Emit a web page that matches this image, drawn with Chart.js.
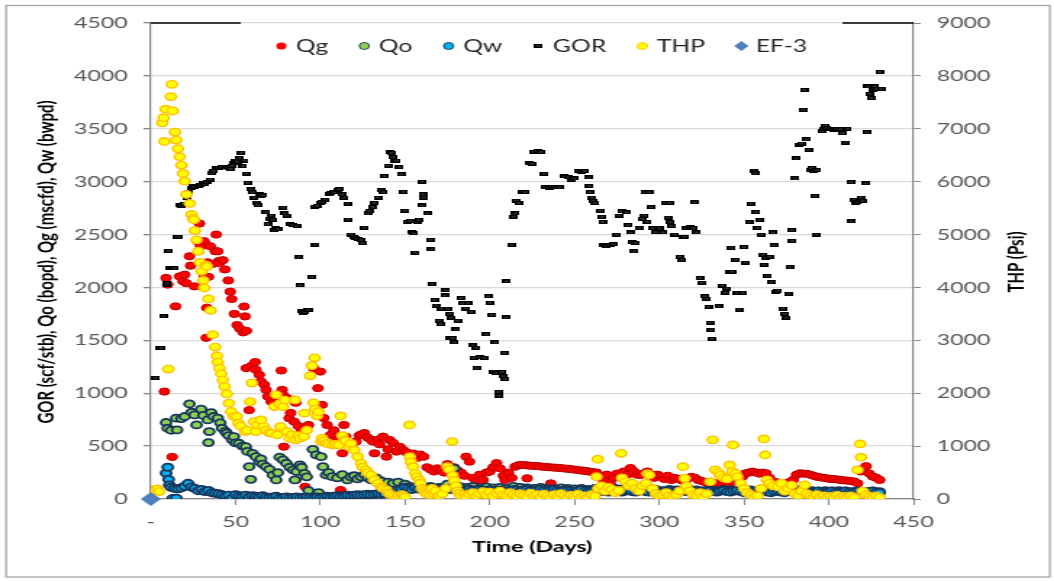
<!DOCTYPE html>
<html>
<head>
<meta charset="utf-8">
<title>EF-3 production history</title>
<script src="https://cdn.jsdelivr.net/npm/chart.js@4.4.1/dist/chart.umd.min.js"></script>
<style>
  html, body { margin: 0; padding: 0; background: #fff; overflow: hidden; }
  /* the chart is drawn narrow and widened here, like the exported sheet chart */
  #wrap { width: 727px; height: 581px; transform: scaleX(1.45); transform-origin: 0 0; }
</style>
</head>
<body>
<div id="wrap"><canvas id="prodChart" width="727" height="581"></canvas></div>
<script>
// axis ranges
const dayRange = [0, 450, 50];
const rateRange = [0, 4500, 500];
const thpRange = [0, 9000, 1000];

// [day, value] readings per series
const qgPoints = [
  [8,1016],[9,2090],[10,2027],[12.6,398],[14.6,1821],[17,2105],[19,2058],[20,2121],[21,2040],[22.8,2295],
  [23.5,2206],[25.8,2010],[27.5,2437],[28.7,2604],[29.4,2390],[31.4,2437],[31.5,2105],[32.7,1524],[33,1808],[33.5,2238],
  [34,2100],[35,2390],[36,2220],[38,2342],[38.6,2500],[39.5,2342],[40,2250],[40.5,2231],[42.5,2258],[43.7,2170],
  [45.7,2066],[46.9,1960],[47.7,1890],[49.3,1750],[50.9,1645],[52.5,1610],[54.5,1575],[55,1820],[55.6,1726],[56.4,1590],
  [56.3,1237],[58,840],[59.6,1260],[61.6,1295],[62,1222],[64,1174],[65,1111],[67,1080],[68,1032],[69,969],
  [71,921],[73,874],[75,950],[77,1215],[77.5,1032],[78,985],[78.5,495],[80.6,953],[81.6,764],[82.5,814],
  [84.5,732],[85.5,909],[85.5,180],[87,690],[89,650],[91,116],[93,700],[96,1237],[98.6,1048],[100,1205],
  [101,890],[102,766],[104,700],[106,606],[108,650],[110,560],[112,85],[113,432],[114,700],[115,590],
  [117,520],[119,480],[121,543],[123,600],[124,610],[126,624],[128,580],[130,560],[131,543],[132,432],
  [134,560],[135,517],[137,590],[139,400],[140,470],[141,558],[143,530],[145,448],[147,492],[149,463],
  [151,440],[153,410],[155,430],[157,388],[159,420],[161,400],[163,300],[165,280],[167,260],[169,290],
  [171,270],[173,250],[175,330],[177,280],[179,300],[181,270],[183,250],[185,220],[186,400],[188,353],
  [190,200],[192,170],[194,230],[196,180],[198,250],[200,259],[202,300],[204,340],[206,290],[208,220],
  [209,180],[211,250],[213,200],[215,306],[217,320],[219,322],[221,320],[222,196],[223,316],[225,314],
  [227,312],[229,310],[231,306],[233,303],[235,300],[236,148],[237,298],[239,296],[241,293],[243,290],
  [245,287],[247,284],[249,280],[251,276],[253,272],[255,268],[257,264],[259,259],[261,254],[263,250],
  [265,220],[267,180],[269,230],[271,150],[273,200],[275,240],[277,210],[279,260],[281,230],[283,293],
  [285,260],[287,230],[289,227],[291,243],[293,260],[295,230],[297,200],[299,230],[301,211],[303,190],
  [305,220],[307,180],[309,200],[311,190],[313,180],[315,160],[317,196],[319,210],[321,200],[323,180],
  [325,170],[327,160],[329,150],[331,148],[333,150],[335,140],[337,133],[339,140],[341,150],[343,160],
  [345,170],[347,180],[349,210],[351,243],[353,250],[355,259],[357,250],[359,240],[361,250],[363,243],
  [365,200],[367,148],[369,160],[371,150],[373,148],[375,148],[377,160],[379,180],[381,230],[383,243],
  [385,240],[387,238],[389,230],[391,220],[393,210],[395,205],[397,200],[399,195],[401,190],[403,188],
  [405,185],[407,180],[409,176],[411,174],[413,170],[415,165],[417,148],[419,260],[421,290],[422,310],
  [424,240],[426,211],[428,200],[430,180]
];

const qoPoints = [
  [9,723],[10,669],[12,650],[15,764],[15.5,653],[18,760],[20,780],[22.8,899],[24,820],[25.8,795],
  [27,700],[29.7,849],[31,790],[33.6,748],[34,533],[34.5,637],[35.6,817],[37,780],[39.5,764],[41,720],
  [42,669],[44,640],[44.8,622],[46,600],[48,560],[49,590],[50,530],[52,527],[54,500],[56,495],
  [57,450],[58,306],[59,186],[60,432],[62,400],[64,353],[65,380],[66,330],[68,306],[70,280],
  [72,227],[74,180],[75,250],[76,395],[78,370],[80,338],[82,300],[84,275],[85,180],[86,260],
  [88,322],[89,300],[90.7,243],[92,210],[93,80],[95.6,470],[97.6,417],[99,60],[100.5,400],[101.5,306],
  [103.4,227],[105,250],[107,211],[110,200],[113,230],[116,180],[118,210],[120,220],[122,190],[124,210],
  [126,230],[128,200],[130,180],[133,200],[136,170],[140,160],[143,150],[146,160],[150,140],[153,120],
  [156,110],[160,130],[165,120],[170,110],[175,140],[179,290],[182,120],[186,110],[190,120],[194,100],
  [198,115],[202,105],[206,110],[210,100],[214,120],[218,110],[222,105],[226,100],[230,110],[234,100],
  [238,95],[242,105],[246,100],[250,95],[254,100],[258,90],[262,100],[266,95],[270,90],[274,100],
  [278,95],[282,85],[286,90],[290,95],[294,85],[298,90],[302,80],[306,90],[310,85],[314,80],
  [318,90],[322,85],[326,80],[330,85],[334,80],[338,90],[342,85],[346,80],[350,75],[354,85],
  [358,80],[362,75],[366,80],[370,85],[374,75],[378,80],[382,85],[386,75],[390,80],[394,75],
  [398,80],[402,75],[406,80],[410,75],[414,70],[418,75],[422,70],[426,75],[430,70]
];

const qwPoints = [
  [9,245],[10,300],[10.5,186],[11,133],[12,110],[13,5],[14,100],[15,8],[16,97],[18,105],
  [20,120],[22,148],[24,113],[26,100],[28,79],[30,90],[32,70],[34,80],[36,60],[38,54],
  [40,50],[42,40],[44,30],[46,35],[48,10],[50,40],[52,30],[54,25],[56,35],[58,20],
  [60,30],[62,25],[64,20],[66,30],[68,20],[70,15],[72,20],[74,25],[76,10],[78,15],
  [80,20],[82,10],[84,15],[86,20],[88,10],[90,15],[92,20],[94,15],[96,10],[98,20],
  [100,15],[102,20],[104,25],[106,20],[108,25],[110,30],[112,25],[114,30],[116,35],[118,30],
  [120,35],[122,40],[124,35],[126,40],[128,45],[130,40],[132,45],[134,50],[136,45],[138,50],
  [140,55],[142,60],[144,70],[146,85],[148,95],[150,110],[152,100],[154,90],[156,105],[158,95],
  [160,100],[162,90],[164,95],[166,105],[168,90],[170,100],[172,95],[174,85],[176,100],[178,90],
  [180,95],[182,85],[184,90],[186,80],[188,95],[190,85],[192,80],[194,90],[196,85],[198,75],
  [200,85],[202,80],[204,70],[206,85],[208,80],[210,70],[212,80],[214,90],[216,85],[218,75],
  [220,85],[222,90],[224,80],[226,75],[228,85],[230,90],[232,80],[234,75],[236,85],[238,90],
  [240,80],[242,75],[244,85],[246,80],[248,75],[250,70],[252,80],[254,85],[256,75],[258,70],
  [260,80],[262,85],[264,75],[266,70],[268,80],[270,65],[272,75],[274,80],[276,70],[278,65],
  [280,75],[282,80],[284,70],[286,65],[288,75],[290,80],[292,70],[294,65],[296,75],[298,80],
  [300,70],[302,65],[304,75],[306,80],[308,70],[310,65],[312,75],[314,80],[316,70],[318,65],
  [320,75],[322,80],[324,70],[326,65],[328,75],[330,80],[332,70],[334,65],[336,75],[338,80],
  [340,70],[342,65],[344,75],[346,80],[348,70],[350,60],[352,70],[354,75],[356,65],[358,60],
  [360,70],[362,75],[364,65],[366,60],[368,70],[370,75],[372,65],[374,60],[376,70],[378,75],
  [380,65],[382,60],[384,70],[386,75],[388,65],[390,60],[392,70],[394,75],[396,65],[398,60],
  [400,70],[402,75],[404,65],[406,60],[408,70],[410,75],[412,65],[414,60],[416,70],[418,75],
  [420,65],[422,60],[424,70],[426,75],[428,65],[430,60]
];

const gorPoints = [
  [2.8,1146],[5,1428],[6,1428],[7.5,1727],[9,2027],[9.5,2040],[10.6,2342],[11,2187],[12.5,2180],[14,2180],
  [15,2475],[16,2480],[17,2784],[18,2768],[19.5,2790],[21,2850],[22,2900],[24,2940],[25,2958],[26,2950],
  [28,2960],[29,2970],[30.7,2989],[32,2980],[33,3000],[35,3020],[36,3080],[37,3100],[38.6,3125],[40,3130],
  [42,3134],[44.5,3134],[46,3130],[47,3120],[48,3150],[49,3180],[50,3200],[51,3190],[52,3220],[53.3,3273],
  [54.3,3147],[55,3200],[56.3,3077],[57,2990],[59,2930],[60,2900],[61,2850],[62.3,2800],[63,2780],[64,2880],
  [65,2860],[66,2870],[68,2711],[69,2600],[70,2650],[71,2680],[72,2640],[72.6,2545],[74,2560],[75,2550],
  [78,2755],[79,2700],[80,2680],[82,2600],[84,2590],[86,2585],[87.3,2285],[88,2020],[89,1780],[90,1760],
  [91,1770],[92,1790],[93,1790],[95,2100],[97,2405],[96.6,2765],[98,2770],[100,2800],[101,2810],[103,2830],
  [105,2880],[106,2890],[108,2900],[110,2920],[111,2930],[113,2880],[114,2850],[116,2793],[116.5,2642],[118,2500],
  [120,2480],[121,2470],[122,2460],[124,2450],[124.5,2420],[126,2566],[128,2700],[129,2720],[131,2760],[132,2800],
  [134,2850],[136,2920],[137,2900],[138,3052],[140,3150],[141,3280],[142,3270],[143,3230],[144,3200],[145,3200],
  [146.7,3137],[147.7,3068],[149,2904],[150,2727],[151,2620],[153,2630],[154,2520],[155,2510],[156,2330],[157,2620],
  [158,2640],[160,3000],[160.5,2880],[161,2850],[160.2,2775],[163,2700],[165,2450],[165.5,2360],[166,2030],[167.4,1884],
  [168.4,1828],[170,1685],[171,1655],[171.5,1800],[173.5,1925],[174,1973],[175,1800],[176,1750],[177,1715],[176.5,1525],
  [178,1520],[179,1480],[180,1603],[181,1685],[183,1900],[184,1850],[186,1800],[187,1850],[189,1770],[190,1452],
  [192,1430],[190.5,1335],[192.5,1237],[194,1340],[197,1335],[198,1556],[199,1915],[200,1855],[201,1740],[203,1480],
  [202,1205],[204,1190],[205,1013],[205.5,975],[207,1200],[208,1160],[209,1136],[208.5,1380],[209.5,1717],[210,2058],
  [212.6,2405],[214,2670],[215,2700],[215.5,2820],[217,2800],[219,2900],[221,2900],[223,3172],[225,3170],[226,3285],
  [228,3290],[230,3280],[232,3077],[233,2945],[235,2940],[237,2950],[239,2945],[241,2945],[244,3050],[246,3040],
  [248,3020],[250,3030],[252,3100],[254,3090],[256,3100],[258,3040],[258.5,2958],[259,2900],[260,2850],[261,2820],
  [262,2800],[265,2727],[266,2670],[266.5,2620],[267,2400],[269,2390],[271,2400],[273,2410],[275,2500],[276,2680],
  [278,2720],[281,2710],[281.5,2590],[283,2520],[284,2430],[285,2340],[286,2420],[288,2560],[290,2650],[291,2680],
  [292,2900],[293,2620],[294,2900],[295,2760],[296,2560],[298,2520],[300,2560],[302,2520],[304,2800],[306,2800],
  [305,2660],[306.5,2620],[307,2580],[309,2500],[312,2290],[313,2260],[314,2480],[315,2480],[316,2560],[318,2570],
  [320,2560],[321,2805],[322,2520],[324,2090],[325,2045],[327,1915],[328,1893],[329,1818],[330,1667],[330.5,1600],
  [331,1515],[335,1821],[337,2017],[339,1950],[340,1990],[341.6,2150],[343,2150],[342,2375],[345,2260],[346,1950],
  [347,1790],[349,1950],[350,2380],[351,2235],[353,2620],[354,2793],[356,3100],[356.5,3080],[357,2711],[358,2560],
  [359,2640],[360,2500],[361,2310],[362,2215],[363,2280],[364,2110],[365,2290],[366,2050],[367,2520],[367.5,2400],
  [369,1960],[370,1970],[373,1800],[374,1750],[375,1715],[376,1940],[377,2190],[378,2540],[378.5,2440],[380,3030],
  [381,3220],[382,3350],[384,3360],[385,3680],[385.5,3866],[387,3400],[388,3300],[389,3110],[390,3130],[391,3100],
  [392,2863],[392.5,2500],[393,3110],[396,3480],[397,3500],[398,3530],[399,3510],[401,3500],[403,3490],[405,3500],
  [407,3500],[408,3460],[410,3370],[411,3500],[413,2995],[413.5,2626],[415,2830],[416,2800],[417,2810],[418,2830],
  [419,2850],[420,2820],[422,2985],[422.5,3466],[423,3900],[424,3830],[425,3790],[426,3870],[427,3900],[428,3880],
  [430,4037],[431,3880]
];

const thpPoints = [
  [0,176],[2,160],[4,190],[5,140],[6.8,7110],[7.6,7210],[8,6760],[8.7,7370],[10.4,2456],[11.8,7608],
  [12.4,7840],[13,7336],[14.3,6938],[15,6786],[16,6622],[17,6472],[18,6314],[19,6156],[20,6010],[21,5758],
  [23,5588],[24,5380],[25,5300],[25.5,5280],[26,5076],[27,4900],[28,4684],[29,4474],[30,4304],[31,4134],
  [31.5,3990],[32.5,4420],[33,4394],[34,3782],[35.3,3566],[36.5,3106],[38,2872],[39,2708],[39.5,2588],[40.5,2474],
  [41.5,2368],[42.5,2254],[43.5,2126],[44.9,1988],[46,1812],[47.4,1654],[49,1560],[50.7,1560],[51.7,1434],[53,1380],
  [55.6,1274],[57,1300],[58.6,1842],[59.6,2192],[61,1464],[62,1274],[63,1400],[65,1496],[66.6,1370],[68,1300],
  [70,1250],[71.5,1244],[73,1748],[74,1970],[74.5,1212],[76,1800],[76.5,1370],[78,1748],[79,1870],[80.4,1274],
  [82,1150],[83.4,1212],[85,1874],[85.4,1118],[87,1200],[88,1150],[90.3,1180],[90.6,1622],[92,1300],[94,2330],
  [95,2520],[96.7,2670],[96,1818],[97,1700],[98,1572],[99,1650],[100.5,1086],[101,1150],[102,1100],[103.4,1054],
  [105,1040],[107.4,1022],[109,1030],[111,1022],[112,1570],[113,1200],[114,1118],[115,1100],[117,990],[118,1050],
  [120,928],[122,800],[124,676],[125,600],[127,550],[128,500],[130,454],[132,360],[134,296],[136,232],
  [137,200],[139,170],[140,120],[141,90],[143,56],[145,32],[146,60],[148,80],[149,70],[150,40],
  [152.6,1400],[152.8,800],[153.5,700],[154.6,612],[156,486],[157,420],[158.4,360],[159,300],[160,200],[161,160],
  [162,120],[163,90],[165,80],[166,200],[167,100],[168,150],[170,60],[172,100],[174,200],[175,612],
  [176,560],[177.8,1086],[178,450],[179,350],[180,250],[181,150],[182,100],[183,60],[185,80],[186,40],
  [188,90],[190,120],[192,60],[194,100],[196,140],[198,80],[200,130],[202,60],[204,110],[206,150],
  [208,80],[210,60],[212,120],[214,90],[216,50],[218,100],[220,70],[222,40],[224,110],[226,60],
  [228,80],[230,40],[232,90],[234,60],[236,30],[238,80],[240,50],[242,100],[244,60],[246,30],
  [248,70],[250,50],[252,90],[254,40],[256,60],[258,30],[260,80],[262,50],[263.7,752],[263,422],
  [264,200],[266,250],[268,150],[270,220],[272,180],[274,120],[276,160],[277.5,864],[278,400],[280,330],
  [282,250],[284,300],[286,200],[288,150],[290,250],[292,300],[293,480],[294,454],[296,200],[298,100],
  [300,60],[302,80],[304,120],[306,60],[308,50],[310,80],[312,150],[314,612],[315,392],[316,250],
  [318,150],[320,80],[322,60],[324,120],[326,40],[328,100],[330,328],[331.5,1118],[333,550],[335,500],
  [336,450],[338,400],[340,380],[341.5,644],[343,520],[343.5,1022],[345,480],[346,420],[348,300],[350,200],
  [352,120],[354,80],[356,40],[358,60],[360,200],[361.7,1136],[362.5,834],[363.5,360],[365,300],[367,250],
  [370,232],[372,300],[374,150],[376,200],[378,260],[380,100],[382,60],[384,150],[385.8,266],[387,100],
  [389,60],[391,40],[393,80],[395,40],[397,60],[399,30],[401,50],[403,40],[405,70],[407,30],
  [409,50],[411,40],[413,60],[415,30],[417,550],[418.5,1042],[419,790],[420,150],[422,80],[424,50],
  [426,40],[428,60],[430,30]
];

const ef3Points = [[0, 0]];

const toXY = pts => pts.map(p => ({ x: p[0], y: p[1] }));

// small black dash used for GOR
const gorDash = document.createElement('canvas');
gorDash.width = 6;
gorDash.height = 4;
(function () {
  const g = gorDash.getContext('2d');
  g.fillStyle = '#000';
  g.fillRect(0, 0, 6, 4);
  g.fillStyle = '#5a5a5a';
  g.fillRect(1.5, 1.5, 3, 1);
})();

const TICK_FONT = { family: 'Lato', size: 16 };
const TICK_COLOR = '#595959';
const AXIS_COLOR = '#868686';
const plainNumber = v => (v === 0 ? '0' : String(v));

const chartFrame = {
  id: 'chartFrame',
  beforeDraw(chart) {
    const ctx = chart.ctx;
    ctx.save();
    ctx.fillStyle = '#fff';
    ctx.fillRect(0, 0, chart.width, chart.height);
    ctx.strokeStyle = '#a6a6a6';
    ctx.lineWidth = 1.3;
    ctx.strokeRect(4.2, 5.5, 719.8, 571.5);
    ctx.restore();
  },
  afterDraw(chart) {
    const ctx = chart.ctx;
    const a = chart.chartArea;
    ctx.save();

    // top edge of the plot, left open behind the legend
    ctx.strokeStyle = '#000';
    ctx.lineWidth = 1.3;
    ctx.beginPath();
    ctx.moveTo(a.left, a.top); ctx.lineTo(166, a.top);
    ctx.moveTo(581, a.top); ctx.lineTo(a.right, a.top);
    ctx.stroke();

    // axis titles
    ctx.fillStyle = '#000';
    ctx.textAlign = 'center';
    ctx.textBaseline = 'middle';
    ctx.font = 'bold 15px Lato';
    const midY = (a.top + a.bottom) / 2 + 1;
    ctx.save();
    ctx.translate(32, midY);
    ctx.rotate(-Math.PI / 2);
    ctx.fillText('GOR (scf/stb), Qo (bopd), Qg (mscfd), Qw (bwpd)', 0, 0);
    ctx.restore();
    ctx.save();
    ctx.translate(701, midY);
    ctx.rotate(-Math.PI / 2);
    ctx.fillText('THP (Psi)', 0, 0);
    ctx.restore();
    ctx.font = 'bold 16px Lato';
    ctx.fillText('Time (Days)', (a.left + a.right) / 2, 547);

    // legend inside the plot
    ctx.font = '17px Lato';
    ctx.textAlign = 'left';
    let x = 194;
    const y = 46;
    chart.data.datasets.slice().sort((p, q) => p.legendIndex - q.legendIndex).forEach(ds => {
      ctx.fillStyle = ds.backgroundColor;
      ctx.strokeStyle = ds.borderColor;
      ctx.lineWidth = ds.legendBorder;
      Chart.helpers.drawPoint(ctx, {
        pointStyle: ds.pointStyle,
        radius: ds.legendRadius,
        borderWidth: ds.legendBorder,
        rotation: 0
      }, x, y);
      ctx.fillStyle = '#262626';
      ctx.fillText(ds.label, x + 10, y + 1);
      x += 10 + ctx.measureText(ds.label).width + 25;
    });
    ctx.restore();
  }
};

const ctx = document.getElementById('prodChart').getContext('2d');
const prodChart = new Chart(ctx, {
  type: 'scatter',
  data: {
    datasets: [
      {
        label: 'EF-3', legendIndex: 5, order: 0, yAxisID: 'y', clip: false,
        data: toXY(ef3Points),
        pointStyle: 'rectRot', pointRadius: 7, borderWidth: 0,
        backgroundColor: '#4F81BD', borderColor: '#4F81BD',
        legendRadius: 5, legendBorder: 0
      },
      {
        label: 'THP', legendIndex: 4, order: 1, yAxisID: 'y1',
        data: toXY(thpPoints),
        pointStyle: 'circle', pointRadius: 3.7, borderWidth: 1.4,
        backgroundColor: '#FFFF00', borderColor: '#FFC000',
        legendRadius: 3.5, legendBorder: 0.8
      },
      {
        label: 'GOR', legendIndex: 3, order: 2, yAxisID: 'y',
        data: toXY(gorPoints),
        pointStyle: gorDash, pointRadius: 3,
        backgroundColor: '#000', borderColor: '#000',
        legendRadius: 3, legendBorder: 0
      },
      {
        label: 'Qw', legendIndex: 2, order: 3, yAxisID: 'y',
        data: toXY(qwPoints),
        pointStyle: 'circle', pointRadius: 3.6, borderWidth: 1.8,
        backgroundColor: '#00B0F0', borderColor: '#17375E',
        legendRadius: 3.5, legendBorder: 0.9
      },
      {
        label: 'Qo', legendIndex: 1, order: 4, yAxisID: 'y',
        data: toXY(qoPoints),
        pointStyle: 'circle', pointRadius: 3.5, borderWidth: 1.8,
        backgroundColor: '#92D050', borderColor: '#17375E',
        legendRadius: 3.5, legendBorder: 0.9
      },
      {
        label: 'Qg', legendIndex: 0, order: 5, yAxisID: 'y',
        data: toXY(qgPoints),
        pointStyle: 'circle', pointRadius: 3.6, borderWidth: 1,
        backgroundColor: '#FF0000', borderColor: '#C00000',
        legendRadius: 3.5, legendBorder: 0
      }
    ]
  },
  options: {
    responsive: false,
    animation: false,
    devicePixelRatio: 1,
    events: [],
    layout: { padding: { top: 23, left: 0, right: 0, bottom: 0 } },
    plugins: {
      legend: { display: false },
      tooltip: { enabled: false }
    },
    scales: {
      x: {
        type: 'linear',
        min: dayRange[0], max: dayRange[1],
        ticks: {
          stepSize: dayRange[2],
          font: TICK_FONT, color: TICK_COLOR, padding: 7,
          callback: v => (v === 0 ? '-' : String(v))
        },
        grid: { drawOnChartArea: false, tickLength: 6, tickColor: AXIS_COLOR },
        border: { color: AXIS_COLOR, width: 1.2 },
        afterFit: s => { s.height = 82; }
      },
      y: {
        position: 'left',
        min: rateRange[0], max: rateRange[1],
        ticks: { stepSize: rateRange[2], font: TICK_FONT, color: TICK_COLOR, padding: 11, callback: plainNumber },
        grid: { color: '#d9d9d9', lineWidth: 1.3, tickLength: 5, tickColor: AXIS_COLOR },
        border: { color: AXIS_COLOR, width: 1.2 },
        afterFit: s => { s.width = 104; }
      },
      y1: {
        position: 'right',
        min: thpRange[0], max: thpRange[1],
        ticks: { stepSize: thpRange[2], font: TICK_FONT, color: TICK_COLOR, padding: 11, callback: plainNumber },
        grid: { drawOnChartArea: false, tickLength: 5, tickColor: AXIS_COLOR },
        border: { color: AXIS_COLOR, width: 1.2 },
        afterFit: s => { s.width = 97; }
      }
    }
  },
  plugins: [chartFrame]
});
</script>
</body>
</html>
